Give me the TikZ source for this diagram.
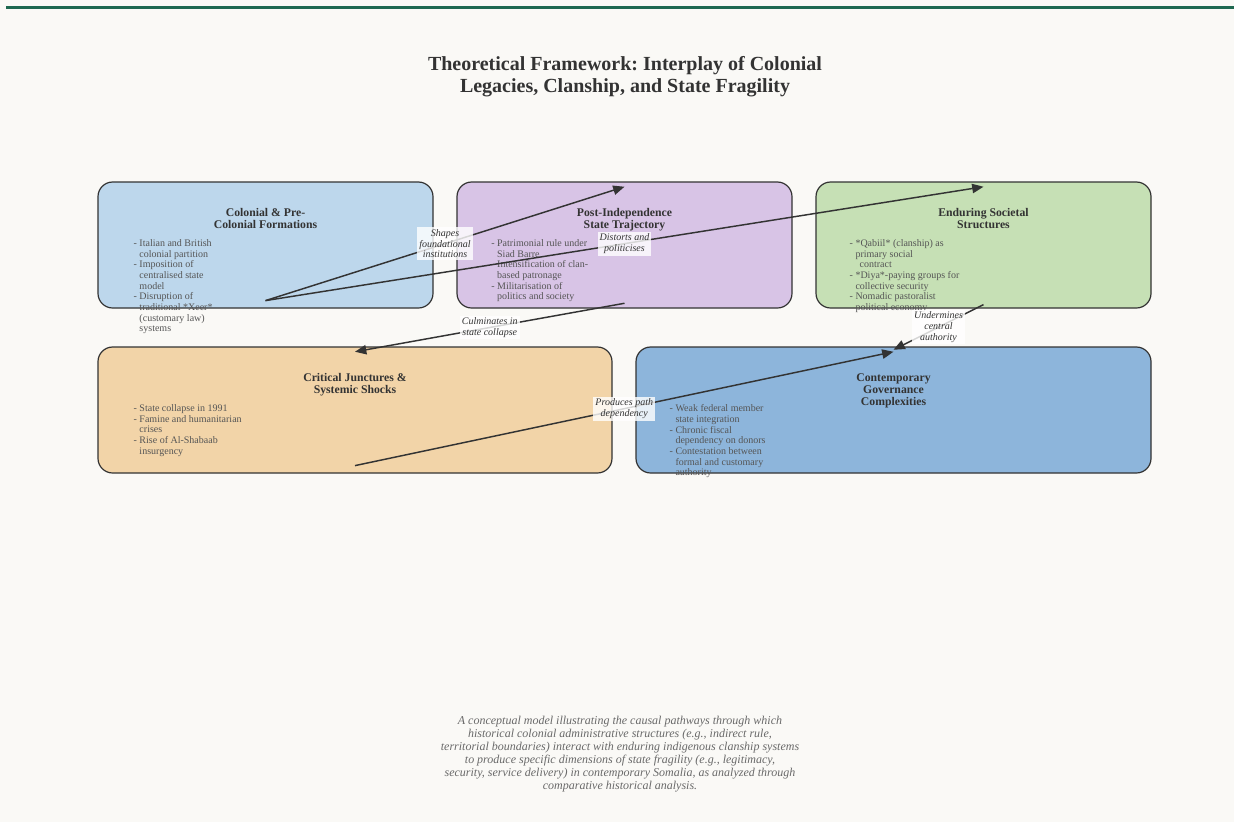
\documentclass[tikz,border=0pt]{standalone}
\usepackage{fontspec}
\setmainfont{Liberation Serif}
\usetikzlibrary{arrows.meta,positioning,calc}
\definecolor{pagebg}{RGB}{250,249,246}
\definecolor{headergreen}{RGB}{30,104,80}
\definecolor{inkdark}{RGB}{51,51,51}
\definecolor{inkgrey}{RGB}{85,85,85}
\definecolor{captiongrey}{RGB}{105,105,105}
\definecolor{colonialblue}{RGB}{189,215,236}
\definecolor{postlilac}{RGB}{216,196,230}
\definecolor{societalgreen}{RGB}{198,224,181}
\definecolor{shocktan}{RGB}{242,212,168}
\definecolor{governblue}{RGB}{141,181,219}
\newcommand{\contline}{\hphantom{-~}}
\frenchspacing

\begin{document}
\begin{tikzpicture}[x=0.75pt, y=-0.75pt,
  stage/.style={draw=inkdark, line width=0.9pt, rounded corners=11pt, minimum height=94.5pt, inner sep=0pt},
  stagetitle/.style={font=\fontsize{8.8}{9.2}\selectfont\bfseries, text=inkdark, align=center, anchor=north, inner sep=0pt},
  stageitems/.style={font=\fontsize{7.5}{8}\selectfont, text=inkgrey, align=left, anchor=north west, inner sep=0pt},
  link/.style={-{Triangle[length=8.5pt,width=7pt]}, line width=1.1pt, draw=inkdark},
  linklabel/.style={midway, fill=white, fill opacity=0.8, text opacity=1, font=\fontsize{7.5}{8}\selectfont\itshape, text=inkdark, align=center, inner sep=1.5pt}]
  \useasboundingbox (0,0) rectangle (1234,822);
  \fill[pagebg] (0,0) rectangle (1234,822);
  \fill[headergreen] (6,6) rectangle (1234,9);

  % heading
  \node[font=\fontsize{15}{16.5}\selectfont\bfseries, text=inkdark, align=center] (title) at (625,77) {Theoretical Framework: Interplay of Colonial\\Legacies, Clanship, and State Fragility};

  % the five stages
  \node[stage, fill=colonialblue, minimum width=251.25pt] (colonial) at (265.5,245) {};
  \node[stage, fill=postlilac, minimum width=251.25pt] (postindep) at (624.5,245) {};
  \node[stage, fill=societalgreen, minimum width=251.25pt] (enduring) at (983.5,245) {};
  \node[stage, fill=shocktan, minimum width=385.5pt] (critical) at (355,410) {};
  \node[stage, fill=governblue, minimum width=386.25pt] (contemporary) at (893.5,410) {};

  \node[stagetitle] (colonialtitle) at ([yshift=-20pt]colonial.north) {Colonial \& Pre-\\Colonial Formations};
  \node[stagetitle] (postindeptitle) at ([yshift=-20pt]postindep.north) {Post-Independence\\State Trajectory};
  \node[stagetitle] (enduringtitle) at ([yshift=-20pt]enduring.north) {Enduring Societal\\Structures};
  \node[stagetitle] (criticaltitle) at ([yshift=-20pt]critical.north) {Critical Junctures \&\\Systemic Shocks};
  \node[stagetitle] (contemporarytitle) at ([yshift=-20pt]contemporary.north) {Contemporary\\Governance\\Complexities};

  \node[stageitems] (colonialitems) at ([xshift=27pt,yshift=-43.5pt]colonial.north west) {- Italian and British\\\contline colonial partition\\- Imposition of\\\contline centralised state\\\contline model\\- Disruption of\\\contline traditional *Xeer*\\\contline (customary law)\\\contline systems};
  \node[stageitems] (postindepitems) at ([xshift=26pt,yshift=-43.5pt]postindep.north west) {- Patrimonial rule under\\\contline Siad Barre\\- Intensification of clan-\\\contline based patronage\\- Militarisation of\\\contline politics and society};
  \node[stageitems] (enduringitems) at ([xshift=25.5pt,yshift=-43.5pt]enduring.north west) {- *Qabiil* (clanship) as\\\contline primary social\\\contline\, contract\\- *Diya*-paying groups for\\\contline collective security\\- Nomadic pastoralist\\\contline political economy};
  \node[stageitems] (criticalitems) at ([xshift=27pt,yshift=-43.5pt]critical.north west) {- State collapse in 1991\\- Famine and humanitarian\\\contline crises\\- Rise of Al-Shabaab\\\contline insurgency};
  \node[stageitems] (contemporaryitems) at ([xshift=25.5pt,yshift=-43.5pt]contemporary.north west) {- Weak federal member\\\contline state integration\\- Chronic fiscal\\\contline dependency on donors\\- Contestation between\\\contline formal and customary\\\contline authority};

  % causal links
  \draw[link] ([yshift=6pt]colonial.south) -- ([yshift=-4pt]postindep.north) node[linklabel] (shapeslbl) {Shapes\\foundational\\institutions};
  \draw[link] ([yshift=6pt]colonial.south) -- ([yshift=-4pt]enduring.north) node[linklabel] (distortslbl) {Distorts and\\politicises};
  \draw[link] ([yshift=4pt]postindep.south) -- ([yshift=-4pt]critical.north) node[linklabel] (culminateslbl) {Culminates in\\state collapse};
  \draw[link] ([yshift=3pt]enduring.south) -- ([yshift=-2.5pt]contemporary.north) node[linklabel] (undermineslbl) {Undermines\\central\\authority};
  \draw[link] ([yshift=6pt]critical.south) -- ([yshift=-4pt]contemporary.north) node[linklabel] (produceslbl) {Produces path\\dependency};

  % caption
  \node[font=\fontsize{9}{9.75}\selectfont\itshape, text=captiongrey, align=center] (caption) at (620,754.5) {A conceptual model illustrating the causal pathways through which\\historical colonial administrative structures (e.g., indirect rule,\\territorial boundaries) interact with enduring indigenous clanship systems\\to produce specific dimensions of state fragility (e.g., legitimacy,\\security, service delivery) in contemporary Somalia, as analyzed through\\comparative historical analysis.};
\end{tikzpicture}
\end{document}
